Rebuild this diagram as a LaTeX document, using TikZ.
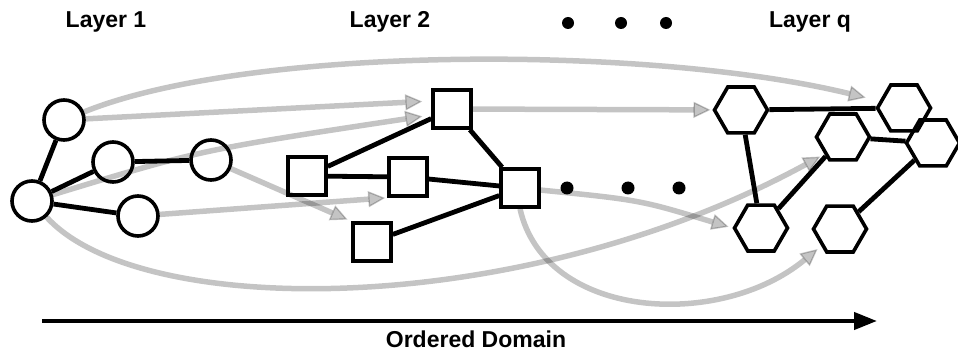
\documentclass[tikz,border=0pt]{standalone}
\usepackage{fontspec}
\setmainfont{Liberation Sans}
\usetikzlibrary{arrows.meta,shapes.geometric,backgrounds}

\tikzset{
  ball/.style={circle, draw, line width=3.6pt, minimum size=40pt, inner sep=0pt},
  box/.style={rectangle, draw, line width=3.6pt, minimum size=38pt, inner sep=0pt},
  hexa/.style={regular polygon, regular polygon sides=6, draw, line width=3.6pt,
               minimum size=53pt, inner sep=0pt},
  dot/.style={circle, fill, inner sep=0pt, minimum size=#1},
  tie/.style={line width=4.8pt},
  flow/.style={line width=5.5pt, draw=black, draw opacity=0.23, fill opacity=0.23,
               -{Triangle[length=17pt, width=16pt, line width=1.4pt, fill=black]}},
  title/.style={font=\bfseries\fontsize{23}{27}\selectfont, anchor=base, inner sep=0pt},
  axis/.style={line width=4.2pt, -{Triangle[length=23pt, width=17pt]}}
}

\begin{document}
\begin{tikzpicture}[x=1pt, y=-1pt]
  \useasboundingbox (0,0) rectangle (958,358);

  % headings
  \node[title] (t1) at (106,28) {Layer 1};
  \node[title] (t2) at (390,28) {Layer 2};
  \node[title] (tq) at (810,28) {Layer q};
  \node[dot=12pt] (u1) at (568,23) {};
  \node[dot=12pt] (u2) at (621,23) {};
  \node[dot=12pt] (u3) at (666,23) {};

  % layer 1: circles
  \node[ball] (c0) at (32,201) {};
  \node[ball] (c1) at (64,120) {};
  \node[ball] (c2) at (113,162) {};
  \node[ball] (c3) at (211,160) {};
  \node[ball] (c4) at (138,216) {};

  % layer 2: squares
  \node[box] (s1) at (452,109) {};
  \node[box] (s2) at (307,176) {};
  \node[box] (s3) at (408,177) {};
  \node[box] (s4) at (372,242) {};
  \node[box] (s5) at (520,188) {};

  % dots between layers
  \node[dot=13pt] (m1) at (567,188) {};
  \node[dot=13pt] (m2) at (628,188) {};
  \node[dot=13pt] (m3) at (679,188) {};

  % layer q: hexagons
  \node[hexa] (h1) at (741,110) {};
  \node[hexa] (h2) at (904,108) {};
  \node[hexa] (h3) at (843,137) {};
  \node[hexa] (h4) at (933,143) {};
  \node[hexa] (h5) at (761,228) {};
  \node[hexa] (h6) at (840,229) {};

  % edges inside each layer
  \draw[tie] (c0) -- (c1);
  \draw[tie] (c0) -- (c2);
  \draw[tie] (c0) -- (c4);
  \draw[tie] (c2) -- (c3);

  \draw[tie] (s2) -- (s1);
  \draw[tie] (s2) -- (s3);
  \draw[tie] (s1) -- (s5);
  \draw[tie] (s3) -- (s5);
  \draw[tie] (s4) -- (s5);

  \draw[tie] (h1) -- (h2);
  \draw[tie] (h1) -- (h5);
  \draw[tie] (h5) -- (h3);
  \draw[tie] (h3) -- (h4);
  \draw[tie] (h6) -- (h4);

  % links between layers, kept behind the graphs
  \begin{scope}[on background layer]
    \draw[flow, shorten >=9pt] (c1) -- ([yshift=8pt]s1.west);
    \draw[flow, shorten >=9pt] (c0) .. controls (200,150) .. ([yshift=-6pt]s1.west);
    \draw[flow, shorten >=4pt] (c3) -- (s4.north west);
    \draw[flow, shorten >=2pt] (c4) -- (s3.south west);
    \draw[flow, shorten >=10pt] (c1) .. controls (250,45) and (650,45) .. ([yshift=8pt]h2.west);
    \draw[flow, shorten >=2pt] (s1) -- (h1);
    \draw[flow, shorten >=4pt] (s5) .. controls (640,200) .. (h5.west);
    \draw[flow, shorten >=3pt] (c0) .. controls (140,320) and (520,320) .. ([xshift=-2pt]h3.south west);
    \draw[flow, shorten >=3pt] (s5.south) .. controls (545,320) and (720,330) .. ([xshift=-2pt]h6.south west);
  \end{scope}

  % ordered domain axis
  \coordinate (a0) at (42,321);
  \coordinate (a1) at (877,321);
  \draw[axis] (a0) -- (a1);
  \node[title] (dom) at (476,347) {Ordered Domain};
\end{tikzpicture}
\end{document}
